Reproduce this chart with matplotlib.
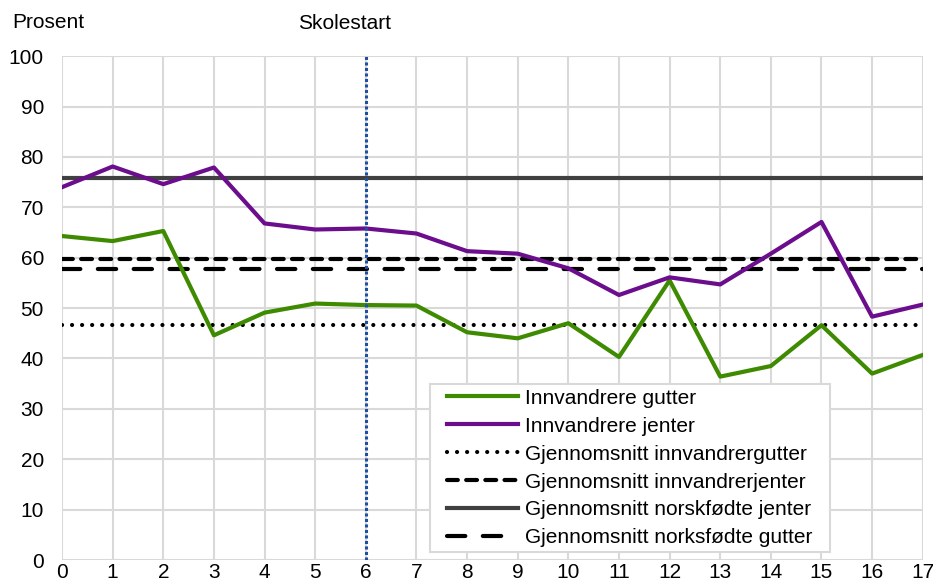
import numpy as np
import matplotlib
matplotlib.use("Agg")
import matplotlib.pyplot as plt
from matplotlib.patches import Rectangle

plt.rcParams['font.family'] = ['Liberation Sans', 'DejaVu Sans']

alder = list(range(18))
gutter = [64.3, 63.3, 65.3, 44.6, 49.1, 50.9, 50.6, 50.5, 45.2, 44.0,
          47.0, 40.3, 55.5, 36.4, 38.5, 46.6, 37.0, 40.7]
jenter = [74.0, 78.1, 74.6, 77.9, 66.8, 65.6, 65.8, 64.8, 61.3, 60.8,
          57.9, 52.6, 56.1, 54.7, 60.8, 67.1, 48.3, 50.7]
snitt_innv_gutter = 46.6
snitt_innv_jenter = 59.8
snitt_norsk_jenter = 75.9
snitt_norsk_gutter = 57.7
skolestart = 6

fig = plt.figure(figsize=(9.33, 5.85), dpi=100)
ax = fig.add_axes([0.0665, 0.0427, 0.9225, 0.8613])

ax.plot(alder, gutter, color='#3E8A00', lw=3, label='Innvandrere gutter', zorder=4)
ax.plot(alder, jenter, color='#6B0D8C', lw=3, label='Innvandrere jenter', zorder=4)
ax.axhline(snitt_innv_gutter, color='black', lw=3, dashes=(0.01, 2.4),
           dash_capstyle='round', label='Gjennomsnitt innvandrergutter', zorder=3)
ax.axhline(snitt_innv_jenter, color='black', lw=3, dashes=(2.6, 2.0),
           dash_capstyle='round', label='Gjennomsnitt innvandrerjenter', zorder=3)
ax.axhline(snitt_norsk_jenter, color='#404040', lw=3,
           label='Gjennomsnitt norskfødte jenter', zorder=3)
ax.axhline(snitt_norsk_gutter, color='black', lw=3, dashes=(4.4, 4.2),
           dash_capstyle='round', label='Gjennomsnitt norksfødte gutter', zorder=3)
ax.axvline(skolestart, color='#1F4FA0', lw=2.2, dashes=(1, 0.8), zorder=5)

ax.set_xlim(0, 17)
ax.set_ylim(0, 100)
ax.set_xticks(alder)
ax.set_yticks(range(0, 101, 10))
ax.grid(True, color='#D9D9D9', lw=1.5)
ax.set_axisbelow(True)
for s in ax.spines.values():
    s.set_visible(False)
ax.tick_params(length=0, labelsize=15)
ax.tick_params(axis='y', pad=13)
ax.tick_params(axis='x', pad=2)

ax.text(-0.058, 1.067, 'Prosent', transform=ax.transAxes, fontsize=15,
        ha='left', va='center')
ax.text(skolestart - 0.42, 104.5, 'Skolestart', fontsize=15,
        ha='center', va='bottom')

# legend without frame, box drawn by hand so side padding can differ from top/bottom
leg = ax.legend(loc='lower right', bbox_to_anchor=(0.872, 0.025), fontsize=15,
                frameon=False, handlelength=3.4, handletextpad=0.33,
                labelspacing=0.43, borderpad=0.0, borderaxespad=0)
leg.set_zorder(7)
fig.canvas.draw()
bb = leg.get_window_extent().transformed(ax.transAxes.inverted())
padx, pady = 17 / 861, 5 / 504
ax.add_patch(Rectangle((bb.x0 - padx, bb.y0 - pady), bb.width + 2 * padx,
                       bb.height + 2 * pady, transform=ax.transAxes,
                       facecolor='white', edgecolor='#D9D9D9', lw=1.5, zorder=6))

fig.savefig('out.png', dpi=100)
